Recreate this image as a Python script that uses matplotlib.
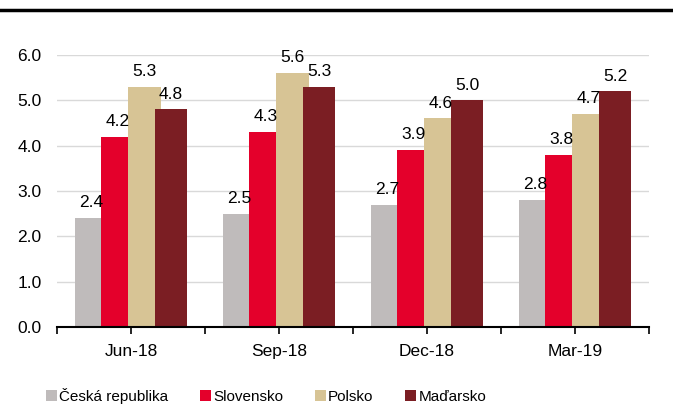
import numpy as np
import matplotlib.pyplot as plt
from matplotlib.patches import Patch
from matplotlib.lines import Line2D

plt.rcParams['font.family'] = ['Liberation Sans', 'DejaVu Sans']

quarters = ['Jun-18', 'Sep-18', 'Dec-18', 'Mar-19']
countries = ['Česká republika', 'Slovensko', 'Polsko', 'Maďarsko']
cz = [2.4, 2.5, 2.7, 2.8]
sk = [4.2, 4.3, 3.9, 3.8]
pl = [5.3, 5.6, 4.6, 4.7]
hu = [4.8, 5.3, 5.0, 5.2]
colors = ['#bfbbbb', '#e4002b', '#d7c495', '#7b1e23']

fs = 12.5

fig = plt.figure(figsize=(6.73, 4.05), dpi=100)
ax = fig.add_axes([57 / 673, (405 - 327) / 405, (649 - 57) / 673, (327 - 55) / 405])

x = np.arange(len(quarters))
step = 0.18
width = 0.22
for i, (vals, c) in enumerate(zip([cz, sk, pl, hu], colors)):
    xs = x + (i - 1.5) * step
    ax.bar(xs, vals, width=width, color=c, zorder=2 + i)
    for xi, v in zip(xs, vals):
        ax.text(xi, v + 0.17, f'{v:.1f}', ha='center', va='bottom',
                fontsize=fs, zorder=10, clip_on=False)

ax.set_xlim(-0.5, 3.5)
ax.set_ylim(0, 6)
ax.set_yticks(np.arange(0, 6.1, 1.0))
ax.set_yticklabels([f'{v:.1f}' for v in np.arange(0, 6.1, 1.0)], fontsize=fs)
ax.set_xticks(x)
ax.set_xticklabels(quarters, fontsize=fs)
ax.set_xticks(np.arange(-0.5, 3.6, 1.0), minor=True)
ax.tick_params(axis='x', which='both', length=5, width=1.2, direction='out', pad=7)
ax.tick_params(axis='y', length=0, pad=11)
ax.grid(axis='y', color='#d9d9d9', lw=1, zorder=0)
ax.set_axisbelow(True)
for s in ['top', 'right', 'left']:
    ax.spines[s].set_visible(False)
ax.spines['bottom'].set_linewidth(1.5)
ax.spines['bottom'].set_zorder(20)

fig.add_artist(Line2D([0, 1], [1 - 9.5 / 405] * 2, transform=fig.transFigure,
                      color='black', lw=2.5))

handles = [Patch(facecolor=c, edgecolor='none') for c in colors]
fig.legend(handles, countries, loc='center', bbox_to_anchor=(266 / 673, 1 - 396 / 405),
           ncol=4, frameon=False, fontsize=11, handlelength=0.72, handleheight=0.72,
           handletextpad=0.13, columnspacing=2.1, borderpad=0)

fig.savefig('out.png', dpi=100)
